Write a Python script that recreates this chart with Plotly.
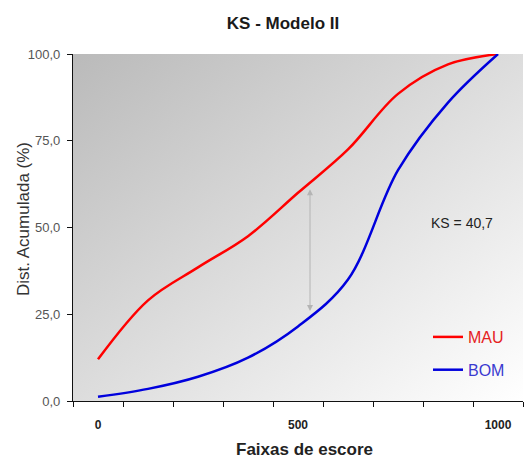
import base64
import plotly.graph_objects as go

# ---- data ----
categories = [0, 125, 250, 375, 500, 625, 750, 875, 1000]
mau = [12.0, 29.0, 38.5, 47.5, 60.0, 72.5, 88.5, 97.0, 100.0]
bom = [1.2, 3.5, 7.0, 12.5, 21.5, 35.0, 66.5, 86.0, 100.0]
x_ticks = [0, 500, 1000]
y_ticks = [0, 25, 50, 75, 100]
ks_value = 40.7
ks_x = 530
ks_top = 61.0
ks_bottom = 25.5

# category boundaries for the tick marks
step = categories[1] - categories[0]
x_min = categories[0] - step / 2
x_max = categories[-1] + step / 2

svg = (
    "<svg xmlns='http://www.w3.org/2000/svg' width='450' height='347' "
    "viewBox='0 0 450 347' preserveAspectRatio='none'>"
    "<defs><linearGradient id='g' x1='0' y1='0' x2='1' y2='1'>"
    "<stop offset='0' stop-color='#bababa'/>"
    "<stop offset='1' stop-color='#ffffff'/>"
    "</linearGradient></defs>"
    "<rect x='0' y='0' width='450' height='347' fill='url(#g)'/></svg>"
)
bg_uri = "data:image/svg+xml;base64," + base64.b64encode(svg.encode()).decode()

FONT = "Arial, 'Liberation Sans', sans-serif"
W, H = 528, 461
ML, MR, MT, MB = 73, 5, 54, 60
PW, PH = W - ML - MR, H - MT - MB

fig = go.Figure()
fig.add_trace(go.Scatter(
    x=categories, y=mau, mode="lines", name="<span style='color:#e52222'>MAU</span>",
    line=dict(color="#ff0000", width=2.5, shape="spline", smoothing=1.0),
    legendgroup="a",
))
fig.add_trace(go.Scatter(
    x=categories, y=bom, mode="lines", name="<span style='color:#3a3ad0'>BOM</span>",
    line=dict(color="#0000dd", width=2.5, shape="spline", smoothing=1.0),
    legendgroup="b",
))

fig.update_layout(
    width=W, height=H,
    margin=dict(l=ML, r=MR, t=MT, b=MB),
    paper_bgcolor="white",
    plot_bgcolor="rgba(0,0,0,0)",
    separators=",.",
    title=dict(text="<b>KS - Modelo II</b>", x=283 / W, xanchor="center",
               y=1 - 23 / H, yanchor="middle",
               font=dict(family=FONT, size=17, color="#1a1a1a")),
    showlegend=True,
    legend=dict(x=(428 - ML) / PW, y=(MT + PH - 320) / PH, xanchor="left", yanchor="top",
                bgcolor="rgba(0,0,0,0)", font=dict(family=FONT, size=16),
                tracegroupgap=9, itemwidth=30),
    font=dict(family=FONT),
    images=[dict(source=bg_uri, xref="paper", yref="paper", x=0, y=1,
                 sizex=1, sizey=1, xanchor="left", yanchor="top",
                 sizing="stretch", layer="below")],
)

fig.update_xaxes(
    range=[x_min, x_max],
    tickmode="array", tickvals=x_ticks, ticktext=["<b>%d</b>" % v for v in x_ticks],
    ticks="", ticklabelstandoff=12, tickfont=dict(family=FONT, size=12, color="#222"),
    showline=True, linecolor="#111", linewidth=1.2,
    showgrid=False, zeroline=False,
    minor=dict(tick0=x_min, dtick=step, ticks="outside", ticklen=5,
               tickcolor="#111", tickwidth=1, showgrid=False),
    fixedrange=True,
)
fig.update_yaxes(
    range=[0, 100],
    tickmode="array", tickvals=y_ticks, tickformat=".1f",
    ticks="outside", ticklen=5, tickcolor="#111", ticklabelstandoff=4,
    tickfont=dict(family=FONT, size=13, color="#555"),
    showline=True, linecolor="#111", linewidth=1.2,
    showgrid=False, zeroline=False,
    fixedrange=True,
)

# axis titles
fig.add_annotation(text="<b>Faixas de escore</b>", xref="paper", yref="paper",
                   x=(304 - ML) / PW, y=-(449 - MT - PH) / PH, showarrow=False,
                   xanchor="center", yanchor="middle",
                   font=dict(family=FONT, size=17, color="#222"))
fig.add_annotation(text="Dist. Acumulada (%)", xref="paper", yref="paper",
                   x=(23 - ML) / PW, y=(MT + PH - 219) / PH, showarrow=False,
                   textangle=-90, xanchor="center", yanchor="middle",
                   font=dict(family=FONT, size=17, color="#333"))

# KS arrow
fig.add_annotation(x=ks_x, y=ks_top, ax=ks_x, ay=ks_bottom, xref="x", yref="y",
                   axref="x", ayref="y", text="", showarrow=True,
                   arrowhead=2, startarrowhead=2, arrowside="end+start",
                   arrowsize=1.2, startarrowsize=1.2, arrowwidth=1, arrowcolor="#b4b4b4")
fig.add_annotation(x=910, y=51.3, xref="x", yref="y", showarrow=False,
                   text="KS = " + ("%.1f" % ks_value).replace(".", ","),
                   font=dict(family=FONT, size=14, color="#222"))

fig.write_html("out.html")
